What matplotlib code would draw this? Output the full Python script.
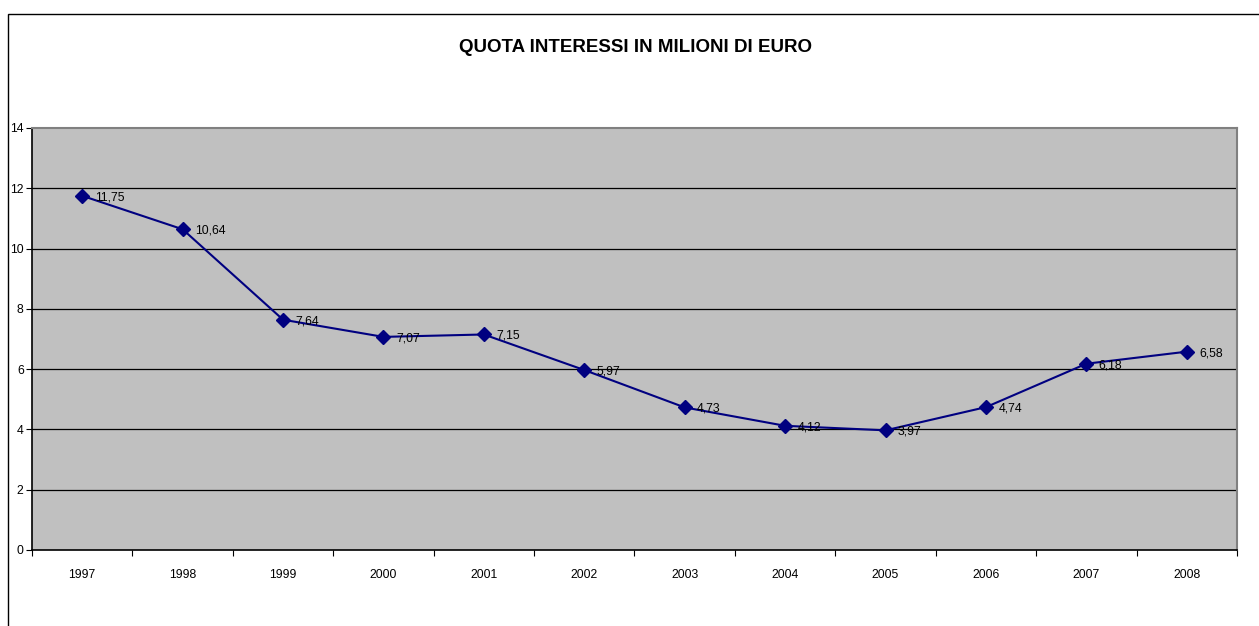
import matplotlib.pyplot as plt
from matplotlib.patches import Rectangle

years = ['1997', '1998', '1999', '2000', '2001', '2002',
         '2003', '2004', '2005', '2006', '2007', '2008']
interessi = [11.75, 10.64, 7.64, 7.07, 7.15, 5.97,
             4.73, 4.12, 3.97, 4.74, 6.18, 6.58]

plt.rcParams['font.family'] = ['Liberation Sans', 'DejaVu Sans']

W, H = 1259, 626
fig = plt.figure(figsize=(W / 100, H / 100), dpi=100)

# chart border (only top and left are inside the picture)
fig.patches.append(Rectangle((8 / W, -0.1), 1.2, (H - 13.5) / H + 0.1,
                             transform=fig.transFigure, fill=False,
                             edgecolor='black', linewidth=1))

left, right, top, bottom = 32, 1237, 128, 550
ax = fig.add_axes([left / W, 1 - bottom / H, (right - left) / W, (bottom - top) / H])
ax.set_facecolor('#C0C0C0')

x = list(range(len(years)))
ax.plot(x, interessi, color='#000080', linewidth=1.5, marker='D',
        markersize=7, markerfacecolor='#000080', markeredgecolor='#000080', zorder=3)

for xi, v in zip(x, interessi):
    ax.annotate(f'{v:.2f}'.replace('.', ','), (xi, v), xytext=(9, -1),
                textcoords='offset points', fontsize=8.8, va='center', ha='left',
                color='black', zorder=4)

ax.set_xlim(-0.5, len(years) - 0.5)
ax.set_ylim(0, 14)
ax.set_yticks(range(0, 15, 2))
ax.set_yticklabels([str(t) for t in range(0, 15, 2)], fontsize=8.8)

ax.set_xticks([i - 0.5 for i in range(len(years) + 1)])
ax.set_xticklabels([])
ax.set_xticks(x, minor=True)
ax.set_xticklabels(years, minor=True, fontsize=8.8)
ax.tick_params(axis='x', which='minor', length=0, pad=14)
ax.tick_params(axis='x', which='major', length=4, direction='out', color='black')
ax.tick_params(axis='y', length=4, direction='out', color='black', pad=2)

for y in range(2, 14, 2):
    ax.axhline(y, color='black', linewidth=0.9, zorder=1)

for side in ['top', 'right']:
    ax.spines[side].set_color('#808080')
    ax.spines[side].set_linewidth(1.5)
for side in ['left', 'bottom']:
    ax.spines[side].set_color('black')
    ax.spines[side].set_linewidth(1.2)

fig.text(635 / W, 1 - 47 / H, 'QUOTA INTERESSI IN MILIONI DI EURO',
         ha='center', va='center', fontsize=13.5, fontweight='bold')

fig.savefig('out.png', dpi=100)
